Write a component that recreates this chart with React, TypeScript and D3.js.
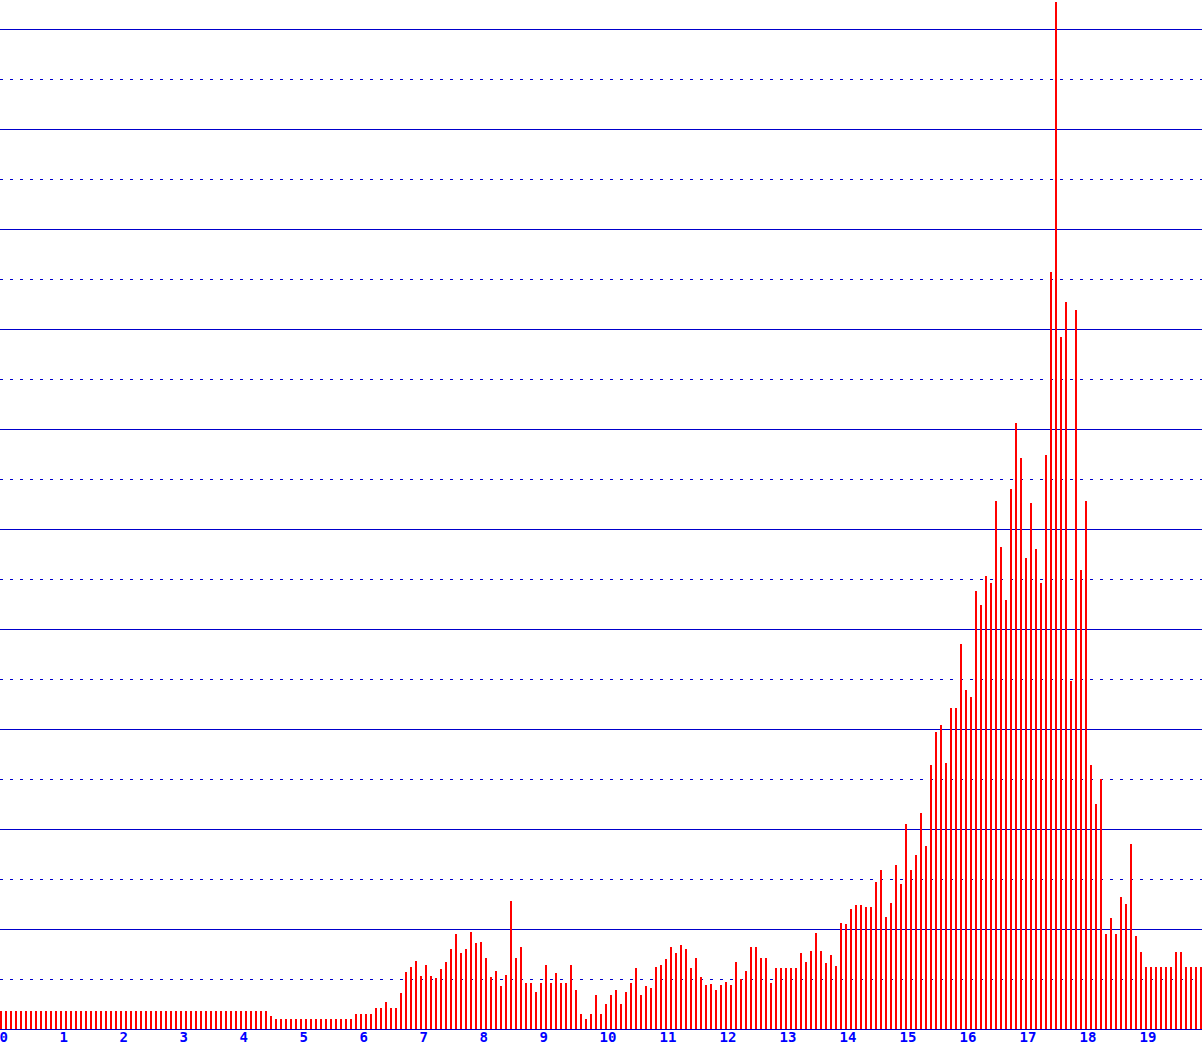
import React from "react";
import * as d3 from "d3";

// Tick labels on the x axis (hours)
const tickLabels: string[] = [
  "0", "1", "2", "3", "4", "5", "6", "7", "8", "9",
  "10", "11", "12", "13", "14", "15", "16", "17", "18", "19",
];

// Bars per axis unit (5-minute bins)
const binsPerUnit = 12;

// Bar values (one per bin, gridline step = 10)
const values: number[] = [
  // 0 .. 4.4
  1.8, 1.8, 1.8, 1.8, 1.8, 1.8, 1.8, 1.8, 1.8, 1.8, 1.8, 1.8,
  1.8, 1.8, 1.8, 1.8, 1.8, 1.8, 1.8, 1.8, 1.8, 1.8, 1.8, 1.8,
  1.8, 1.8, 1.8, 1.8, 1.8, 1.8, 1.8, 1.8, 1.8, 1.8, 1.8, 1.8,
  1.8, 1.8, 1.8, 1.8, 1.8, 1.8, 1.8, 1.8, 1.8, 1.8, 1.8, 1.8,
  1.8, 1.8, 1.8, 1.8, 1.8, 1.8, 1.3, 1.0,
  1.0, 1.0, 1.0, 1.0, 1.0, 1.0, 1.0, 1.0, 1.0, 1.0, 1.0, 1.0,
  1.0, 1.0, 1.0, 1.5, 1.5, 1.5, 1.5, 2.1, 2.1, 2.7, 2.1, 2.1,
  // 80..
  3.6, 5.7, 6.2, 6.8, 5.3, 6.4, 5.3, 5.1, 6.0, 6.7, 8.0, 9.5,
  7.6, 8.0, 9.7, 8.6, 8.7, 7.1, 5.2, 5.8, 4.3, 5.4, 12.8, 7.1,
  8.2, 4.6, 4.6, 3.7, 4.6, 6.4, 4.6, 5.6, 4.6, 4.6, 6.4, 3.9,
  // 116..
  1.5, 1.0, 1.5, 3.4, 1.5, 2.5, 3.4, 3.9, 2.5, 3.7, 4.6, 6.1,
  3.4, 4.3, 4.1, 6.2, 6.4, 7.0, 8.2, 7.6, 8.4, 8.0, 6.1, 7.1,
  5.2, 4.4, 4.5, 3.9, 4.4, 4.7, 4.4, 6.7, 5.0, 5.8, 8.2, 8.2,
  7.1, 7.1, 4.6, 6.1, 6.1, 6.1, 6.1, 6.1, 7.6, 6.7, 7.8, 9.6,
  // 164..
  7.8, 6.6, 7.4, 6.3, 10.6, 10.5, 12.0, 12.4, 12.4, 12.2, 12.2, 14.7,
  15.9, 11.2, 12.6, 16.4, 14.5, 20.5, 15.9, 17.4, 21.6, 18.3, 26.4, 29.7,
  30.4, 26.6, 32.1, 32.1, 38.5, 33.9, 33.2, 43.8, 42.4, 45.3, 44.6, 52.8,
  48.2, 42.9, 54.0, 60.6, 57.1, 47.1, 52.6, 48.0, 44.6, 57.4, 75.7, 102.7,
  69.2, 72.7, 34.8, 71.9, 45.9, 52.8, 26.4, 22.5, 25.0, 9.5, 11.1, 9.5,
  13.2, 12.5, 18.5, 9.3, 7.7, 6.2, 6.2, 6.2, 6.2, 6.2, 6.2, 7.7,
  7.7, 6.2, 6.2, 6.2, 6.2,
];

const solidLines: number[] = [10, 20, 30, 40, 50, 60, 70, 80, 90, 100];
const dottedLines: number[] = [5, 15, 25, 35, 45, 55, 65, 75, 85, 95];

const W = 1202;
const H = 1049;
const BASE = 1029;

export default function App() {
  const x = d3.scaleLinear().domain([0, 20]).range([0, 1200]);
  const y = d3.scaleLinear().domain([0, 102.9]).range([BASE, 0]);
  const barW = 2;
  const lineColor = "#0000cc";

  return (
    <svg
      width={W}
      height={H}
      style={{ position: "absolute", left: 0, top: 0, background: "#fff" }}
    >
      <rect x={0} y={0} width={W} height={H} fill="#ffffff" />
      {dottedLines.map((v) => (
        <line
          key={"d" + v}
          x1={0}
          x2={W}
          y1={Math.round(y(v)) + 0.5}
          y2={Math.round(y(v)) + 0.5}
          stroke={lineColor}
          strokeWidth={1}
          strokeDasharray="3,7"
          shapeRendering="crispEdges"
        />
      ))}
      {solidLines.map((v) => (
        <line
          key={"s" + v}
          x1={0}
          x2={W}
          y1={Math.round(y(v)) + 0.5}
          y2={Math.round(y(v)) + 0.5}
          stroke={lineColor}
          strokeWidth={1}
          shapeRendering="crispEdges"
        />
      ))}
      {values.map((v, i) => {
        const top = y(v);
        return (
          <rect
            key={"b" + i}
            x={x(i / binsPerUnit)}
            y={top}
            width={barW}
            height={BASE - top}
            fill="#ff0000"
            shapeRendering="crispEdges"
          />
        );
      })}
      <line
        x1={0}
        x2={W}
        y1={BASE + 0.5}
        y2={BASE + 0.5}
        stroke={lineColor}
        strokeWidth={1}
        shapeRendering="crispEdges"
      />
      {tickLabels.map((t, k) => (
        <text
          key={"t" + k}
          x={x(k) - 0.5}
          y={1042}
          fill="#0000ff"
          fontFamily="'DejaVu Sans Mono', monospace"
          fontWeight="bold"
          fontSize={14}
        >
          {t}
        </text>
      ))}
    </svg>
  );
}
